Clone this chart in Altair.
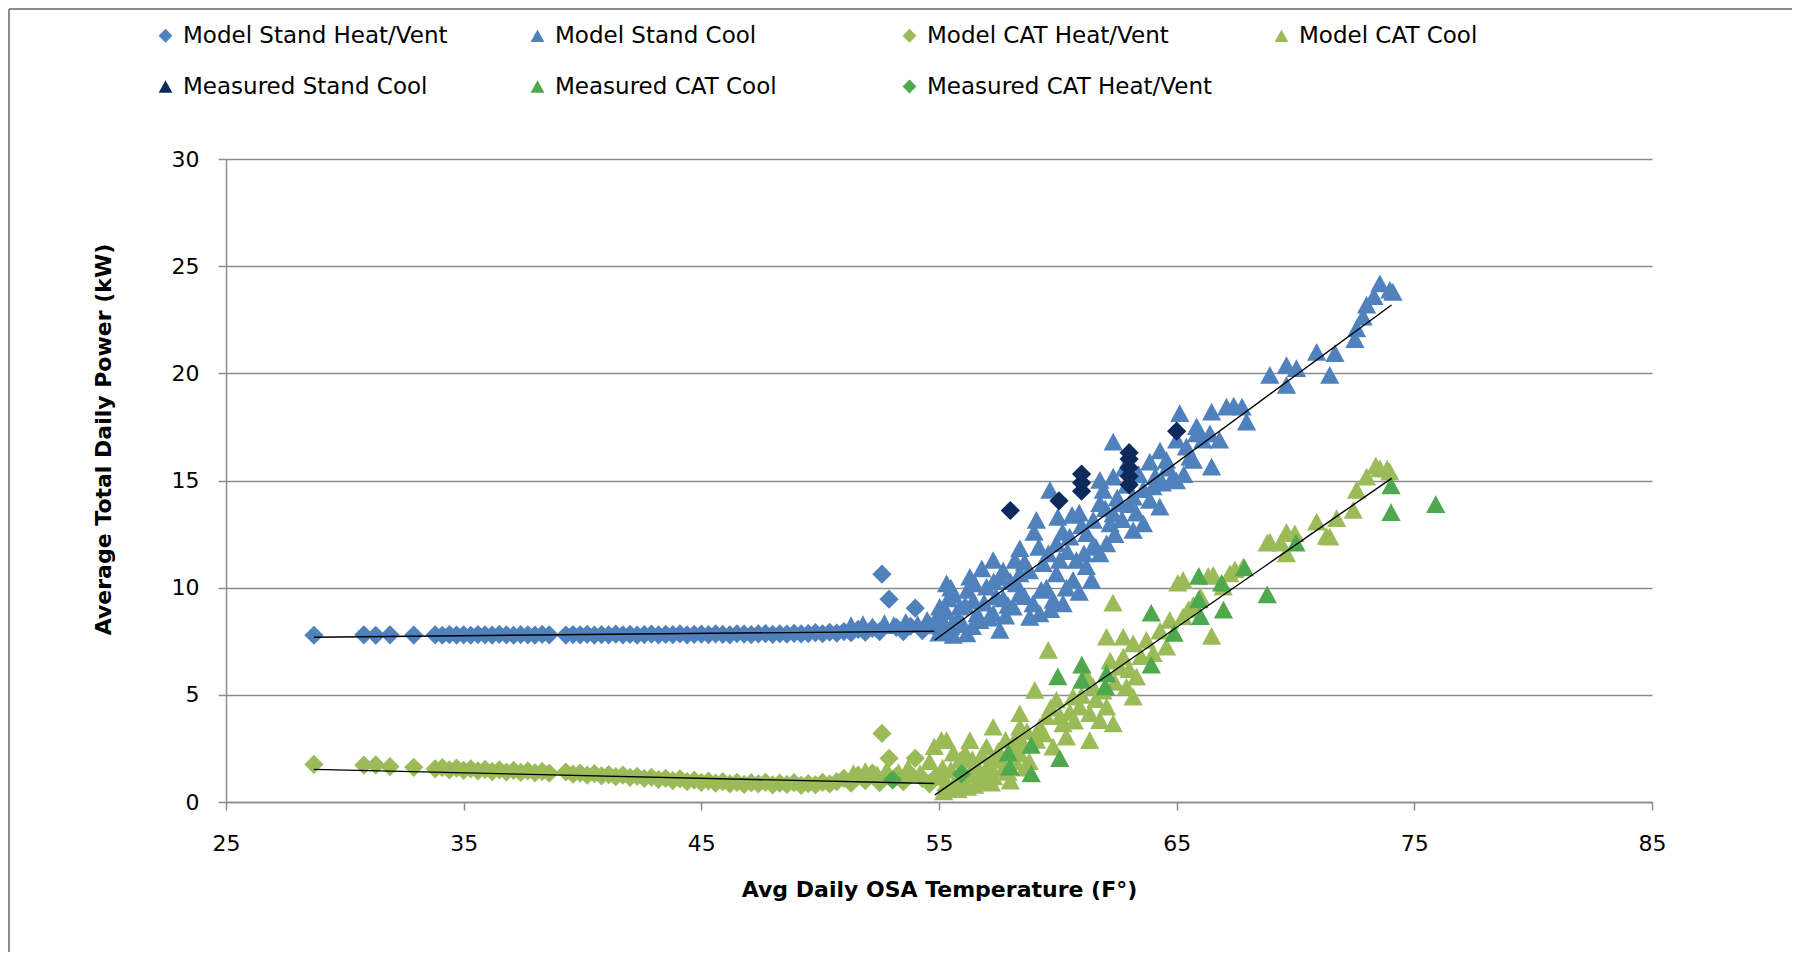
import altair as alt
import pandas as pd

# ---------------- data ----------------
SERIES = ["Model Stand Heat/Vent", "Model Stand Cool", "Model CAT Heat/Vent", "Model CAT Cool",
          "Measured Stand Cool", "Measured CAT Cool", "Measured CAT Heat/Vent"]
COLORS = ["#4F81BD", "#4F81BD", "#9BBB59", "#9BBB59", "#0E2A5C", "#4EA84E", "#4EA84E"]
TRI = "M0,-0.92L1,0.92L-1,0.92Z"
SHAPES = ["diamond", TRI, "diamond", TRI, TRI, TRI, "diamond"]

X_TICKS = [25, 35, 45, 55, 65, 75, 85]
Y_TICKS = [0, 5, 10, 15, 20, 25, 30]

# heat/vent days (shared temperatures for both model heat/vent series)
heat_temp = [28.7, 30.8, 31.3, 31.9, 32.9, 33.8, 34.1, 34.4, 34.7, 35.0,
             35.3, 35.6, 35.9, 36.2, 36.5, 36.8, 37.1, 37.4, 37.7, 38.0,
             38.3, 38.6, 39.3, 39.6, 39.9, 40.2, 40.5, 40.8, 41.1, 41.4,
             41.7, 42.0, 42.3, 42.6, 42.9, 43.2, 43.5, 43.8, 44.1, 44.4,
             44.7, 45.0, 45.3, 45.6, 45.9, 46.2, 46.5, 46.8, 47.1, 47.4,
             47.7, 48.0, 48.3, 48.6, 48.9, 49.2, 49.5, 49.8, 50.1, 50.4,
             50.7, 51.0, 51.3, 51.6, 51.9, 52.2, 52.5, 52.6, 52.9, 53.2,
             53.5, 53.8, 54.0, 54.3, 54.6, 54.9]
stand_heat_kw = [7.78, 7.8, 7.78, 7.8, 7.79, 7.8, 7.78, 7.81, 7.79, 7.8,
                 7.78, 7.81, 7.8, 7.79, 7.82, 7.8, 7.78, 7.81, 7.8, 7.79,
                 7.82, 7.8, 7.79, 7.81, 7.8, 7.82, 7.79, 7.81, 7.8, 7.83,
                 7.8, 7.82, 7.79, 7.81, 7.83, 7.8, 7.82, 7.81, 7.84, 7.8,
                 7.82, 7.83, 7.81, 7.84, 7.82, 7.8, 7.85, 7.83, 7.81, 7.84,
                 7.86, 7.82, 7.85, 7.83, 7.87, 7.84, 7.86, 7.9, 7.85, 7.92,
                 7.88, 7.95, 7.9, 8.05, 7.92, 8.1, 7.95, 10.63, 9.46, 8.15,
                 7.95, 8.2, 9.04, 8.0, 8.25, 8.05]
cat_heat_kw = [1.75, 1.72, 1.73, 1.65, 1.62, 1.55, 1.6, 1.5, 1.58, 1.48,
               1.55, 1.45, 1.52, 1.42, 1.5, 1.4, 1.47, 1.38, 1.45, 1.36,
               1.42, 1.35, 1.4, 1.3, 1.35, 1.25, 1.32, 1.22, 1.28, 1.18,
               1.25, 1.15, 1.2, 1.1, 1.15, 1.05, 1.1, 1.0, 1.08, 0.95,
               1.02, 0.92, 0.98, 0.88, 0.95, 0.85, 0.92, 0.82, 0.9, 0.85,
               0.92, 0.8, 0.88, 0.82, 0.9, 0.78, 0.86, 0.8, 0.92, 0.84,
               0.95, 1.1, 0.88, 1.25, 1.0, 1.35, 0.9, 3.2, 2.04, 1.2,
               0.95, 1.3, 2.04, 1.1, 0.85, 1.2]

stand_cool_temp = [51.3, 51.8, 52.2, 52.7, 53.1, 53.6, 54.1, 54.5, 54.9, 55.0,
                   55.03, 55.2, 55.32, 55.4, 55.5, 55.6, 55.6, 55.87, 56.0, 56.17,
                   56.2, 56.3, 56.45, 56.6, 56.72, 56.8, 57.0, 57.28, 57.28, 57.4,
                   57.56, 57.56, 57.7, 57.7, 57.9, 58.12, 58.26, 58.4, 58.4, 58.4,
                   58.6, 58.82, 58.96, 59.0, 59.1, 59.24, 59.3, 59.38, 59.52, 59.67,
                   59.8, 59.94, 59.94, 60.0, 60.08, 60.22, 60.36, 60.4, 60.5, 60.64,
                   60.78, 60.9, 61.0, 61.2, 61.21, 61.42, 61.49, 61.6, 61.77, 61.77,
                   61.77, 61.91, 62.05, 62.2, 62.33, 62.33, 62.33, 62.5, 62.61, 62.8,
                   62.9, 63.17, 63.17, 63.3, 63.4, 63.6, 63.87, 63.87, 64.0, 64.29,
                   64.3, 64.57, 64.6, 64.85, 64.99, 65.0, 65.13, 65.3, 65.41, 65.56,
                   65.7, 65.84, 65.84, 66.1, 66.4, 66.47, 66.47, 66.8, 67.1, 67.4,
                   67.75, 67.94, 68.92, 69.62, 69.62, 70.04, 70.89, 71.44, 71.66, 72.5,
                   72.57, 72.84, 72.99, 73.3, 73.55, 73.97, 74.1,
                   55.1, 55.3, 55.5, 55.8, 56.1, 56.4, 56.5, 56.9, 57.1, 57.3,
                   57.8, 58.0, 58.2, 58.6, 58.8, 59.2, 59.6, 59.7, 60.2, 60.6,
                   60.9, 61.1, 61.5, 62.0, 62.4, 62.7, 63.0, 63.6, 64.1, 64.4]
stand_cool_kw = [8.25, 8.3, 8.2, 8.35, 8.25, 8.4, 8.3, 8.5, 8.6, 7.9,
                 9.11, 8.4, 10.2, 9.5, 8.2, 7.8, 9.7, 9.11, 8.3, 7.87,
                 9.9, 10.51, 9.4, 8.8, 8.49, 10.9, 10.05, 8.8, 11.29, 9.6,
                 8.03, 10.5, 10.8, 9.5, 9.2, 9.11, 10.2, 9.74, 10.67, 11.84,
                 11.2, 8.64, 9.27, 12.6, 13.16, 8.8, 9.9, 11.14, 10.0, 14.56,
                 9.43, 10.67, 12.07, 13.3, 11.29, 9.27, 10.0, 11.7, 12.38, 10.36,
                 11.29, 13.5, 12.9, 11.0, 12.54, 10.36, 13.16, 11.9, 11.6, 13.94,
                 15.03, 14.56, 12.07, 13.0, 13.47, 15.18, 16.81, 14.2, 13.94, 15.6,
                 14.8, 12.69, 14.25, 13.5, 15.3, 14.6, 14.1, 15.88, 14.72, 13.78,
                 16.4, 15.96, 15.6, 15.18, 15.0, 16.9, 18.14, 15.3, 16.58, 16.1,
                 15.96, 17.2, 17.53, 16.9, 17.2, 15.65, 18.21, 16.9, 18.45, 18.5,
                 18.45, 17.75, 19.93, 20.39, 19.46, 20.24, 21.0, 19.93, 20.94, 21.6,
                 22.1, 22.65, 23.2, 23.6, 24.2, 23.9, 23.8,
                 8.0, 8.9, 10.0, 8.6, 9.2, 8.2, 10.2, 9.3, 8.6, 10.3,
                 8.7, 10.3, 11.3, 9.6, 10.8, 11.9, 11.6, 9.0, 12.6, 13.4,
                 9.8, 11.6, 12.0, 13.7, 12.5, 13.2, 13.9, 13.0, 15.2, 14.9]

cat_cool_temp = [51.4, 51.9, 52.4, 52.8, 53.3, 53.7, 54.2, 54.6, 54.8, 55.03,
                 55.1, 55.2, 55.32, 55.4, 55.5, 55.8, 55.88, 56.0, 56.1, 56.3,
                 56.3, 56.5, 56.6, 56.8, 56.9, 57.0, 57.0, 57.2, 57.28, 57.42,
                 57.5, 57.7, 57.8, 58.0, 58.1, 58.26, 58.4, 58.4, 58.4, 58.6,
                 58.8, 59.03, 59.24, 59.52, 59.6, 59.8, 59.94, 60.22, 60.36, 60.5,
                 60.64, 60.92, 61.2, 61.34, 61.34, 61.49, 61.77, 62.05, 62.05, 62.2,
                 62.32, 62.33, 62.61, 62.75, 62.75, 62.89, 63.17, 63.17, 63.31, 63.5,
                 63.73, 64.01, 64.3, 64.57, 64.71, 65.05, 65.27, 65.27, 65.5, 65.7,
                 66.0, 66.33, 66.47, 66.54, 66.96, 67.24, 67.45, 67.8, 68.81, 68.92,
                 69.38, 69.62, 69.62, 69.97, 70.89, 71.3, 71.44, 71.73, 72.43, 72.57,
                 72.99, 73.38, 73.55, 73.86, 73.97,
                 55.15, 55.3, 55.6, 55.7, 56.0, 56.2, 56.4, 56.7, 57.1, 57.3,
                 57.6, 57.9, 58.2, 58.5, 58.7, 59.1, 59.4, 59.7, 60.1, 60.7,
                 61.0, 61.6, 61.9, 62.4, 63.0]
cat_cool_kw = [1.35, 1.45, 1.3, 1.5, 1.4, 1.6, 1.35, 1.9, 2.6, 1.18,
               2.9, 0.5, 2.89, 0.75, 1.5, 0.6, 1.96, 0.95, 2.3, 2.89,
               1.3, 0.8, 1.7, 2.2, 1.0, 2.58, 1.4, 0.9, 3.51, 1.96,
               2.4, 1.55, 2.9, 1.0, 2.6, 3.05, 4.14, 3.51, 2.27, 1.6,
               1.9, 5.23, 3.51, 4.0, 7.1, 2.58, 4.77, 3.67, 3.05, 4.2,
               4.92, 4.45, 5.9, 4.14, 2.89, 5.38, 3.82, 4.45, 7.71, 6.6,
               9.3, 3.67, 6.31, 7.71, 6.78, 5.38, 4.92, 7.4, 5.85, 6.8,
               7.56, 6.94, 8.0, 7.25, 8.5, 10.23, 8.66, 10.36, 9.0, 9.2,
               9.6, 10.55, 7.75, 10.6, 10.05, 10.67, 10.86, 10.98, 12.1, 12.15,
               12.1, 12.6, 11.6, 12.54, 13.08, 12.42, 12.38, 13.24, 13.63, 14.56,
               15.18, 15.7, 15.57, 15.55, 15.41,
               1.6, 0.9, 2.3, 1.0, 1.5, 0.7, 2.0, 1.2, 1.8, 1.2,
               2.0, 1.4, 1.9, 2.8, 3.3, 2.9, 3.2, 4.4, 4.0, 3.8,
               5.0, 4.8, 5.2, 5.6, 6.2]

meas_stand_cool_temp = [58.0, 60.05, 61.0, 61.0, 61.0, 63.0, 63.0, 63.0, 63.0, 63.0, 65.0]
meas_stand_cool_kw = [13.6, 14.05, 14.5, 14.9, 15.3, 14.8, 15.2, 15.6, 16.0, 16.3, 17.3]

meas_cat_cool_temp = [57.92, 57.98, 58.88, 58.88, 60.08, 60.0, 61.01, 61.01, 62.0, 62.05,
                      63.93, 63.93, 64.89, 65.93, 65.93, 66.0, 66.89, 66.97, 67.85, 68.81,
                      70.02, 74.02, 74.02, 75.9]
meas_cat_cool_kw = [2.3, 1.65, 2.66, 1.33, 2.05, 5.86, 6.41, 5.7, 5.39, 6.0,
                    8.83, 6.41, 7.89, 10.55, 9.45, 8.67, 10.23, 8.98, 10.94, 9.69,
                    12.1, 14.77, 13.52, 13.9]

meas_cat_heat_temp = [53.05, 55.95]
meas_cat_heat_kw = [1.03, 1.31]

# trend lines (end points)
trend_name = ["stand_heat", "stand_heat", "stand_cool", "stand_cool",
              "cat_heat", "cat_heat", "cat_cool", "cat_cool"]
trend_temp = [28.7, 54.8, 54.83, 74.04, 28.7, 54.8, 54.83, 74.04]
trend_kw = [7.69, 7.97, 7.56, 23.19, 1.52, 0.86, 0.33, 15.1]

# ---------------- build tables ----------------
rows = []


def add(name, ts, ps):
    assert len(ts) == len(ps), name
    for t, p in zip(ts, ps):
        rows.append({"series": name, "temp": t, "kw": p})


add(SERIES[0], heat_temp, stand_heat_kw)
add(SERIES[1], stand_cool_temp, stand_cool_kw)
add(SERIES[2], heat_temp, cat_heat_kw)
add(SERIES[3], cat_cool_temp, cat_cool_kw)
add(SERIES[5], meas_cat_cool_temp, meas_cat_cool_kw)
add(SERIES[6], meas_cat_heat_temp, meas_cat_heat_kw)
points = pd.DataFrame(rows)

assert len(meas_stand_cool_temp) == len(meas_stand_cool_kw)
meas_stand = pd.DataFrame({"temp": meas_stand_cool_temp, "kw": meas_stand_cool_kw})
trends = pd.DataFrame({"trend": trend_name, "temp": trend_temp, "kw": trend_kw})

# ---------------- chart ----------------
W, H = 1426, 643
PAD = {"left": 218, "top": 151, "right": 140, "bottom": 150}
FONT = "DejaVu Sans"
GRID = "#8C8C8C"

x_scale = alt.Scale(domain=[25, 85], nice=False, zero=False)
y_scale = alt.Scale(domain=[0, 30], nice=False, zero=False)

x_axis = alt.Axis(values=X_TICKS, grid=False, tickSize=8, tickColor=GRID, tickWidth=1.5,
                  domainColor=GRID, domainWidth=1.5, labelFont=FONT, labelFontSize=22,
                  labelColor="#000000", labelPadding=33, labelBaseline="middle",
                  labelFlush=False, labelOverlap=False,
                  title="Avg Daily OSA Temperature (F°)", titleFont=FONT, titleFontSize=22,
                  titleFontWeight="bold", titleColor="#000000", titleY=87,
                  titleBaseline="middle")
y_axis = alt.Axis(values=Y_TICKS, grid=True, gridColor=GRID, gridWidth=1.5, tickSize=8,
                  tickColor=GRID, tickWidth=1.5, domainColor=GRID, domainWidth=1.5,
                  labelFont=FONT, labelFontSize=22, labelColor="#000000", labelPadding=19,
                  labelFlush=False, labelOverlap=False,
                  title="Average Total Daily Power (kW)", titleFont=FONT, titleFontSize=22,
                  titleFontWeight="bold", titleColor="#000000", titleAngle=270,
                  titleX=-123, titleY=280, titleBaseline="middle", titleAlign="center")

legend = alt.Legend(orient="none", legendX=-72, legendY=-135, direction="horizontal",
                    columns=4, columnPadding=57, rowPadding=27, gridAlign="all",
                    symbolSize=190, symbolStrokeWidth=0, symbolOpacity=1,
                    labelFont=FONT, labelFontSize=23, labelColor="#000000",
                    labelLimit=600, labelOffset=6, padding=0, title=None)

pts = alt.Chart(points).mark_point(filled=True, opacity=1, size=370, strokeWidth=0).encode(
    x=alt.X("temp:Q", scale=x_scale, axis=x_axis),
    y=alt.Y("kw:Q", scale=y_scale, axis=y_axis),
    color=alt.Color("series:N", scale=alt.Scale(domain=SERIES, range=COLORS), legend=legend),
    shape=alt.Shape("series:N", scale=alt.Scale(domain=SERIES, range=SHAPES), legend=legend),
)

meas_pts = alt.Chart(meas_stand).mark_point(filled=True, opacity=1, size=370, strokeWidth=0).encode(
    x=alt.X("temp:Q", scale=x_scale, axis=x_axis),
    y=alt.Y("kw:Q", scale=y_scale, axis=y_axis),
    color=alt.value(COLORS[4]),
    shape=alt.value("diamond"),
)

lines = alt.Chart(trends).mark_line(color="#000000", strokeWidth=1.4).encode(
    x=alt.X("temp:Q", scale=x_scale, axis=x_axis),
    y=alt.Y("kw:Q", scale=y_scale, axis=y_axis),
    detail="trend:N",
)

frame_df = pd.DataFrame({"k": [0]})
frame_top = alt.Chart(frame_df).mark_rule(color="#8C8C8C", strokeWidth=2).encode(
    x=alt.value(-217), x2=alt.value(W + PAD["right"]), y=alt.value(-150))
frame_left = alt.Chart(frame_df).mark_rule(color="#8C8C8C", strokeWidth=2).encode(
    x=alt.value(-217), y=alt.value(-150), y2=alt.value(H + PAD["bottom"]))

chart = alt.layer(frame_top, frame_left, pts, meas_pts, lines).properties(
    width=W, height=H,
    autosize=alt.AutoSizeParams(type="none"),
    padding=PAD,
    background="#FFFFFF",
).configure_view(stroke=None)

chart.save("out.html", embed_options={"renderer": "svg", "actions": False})
